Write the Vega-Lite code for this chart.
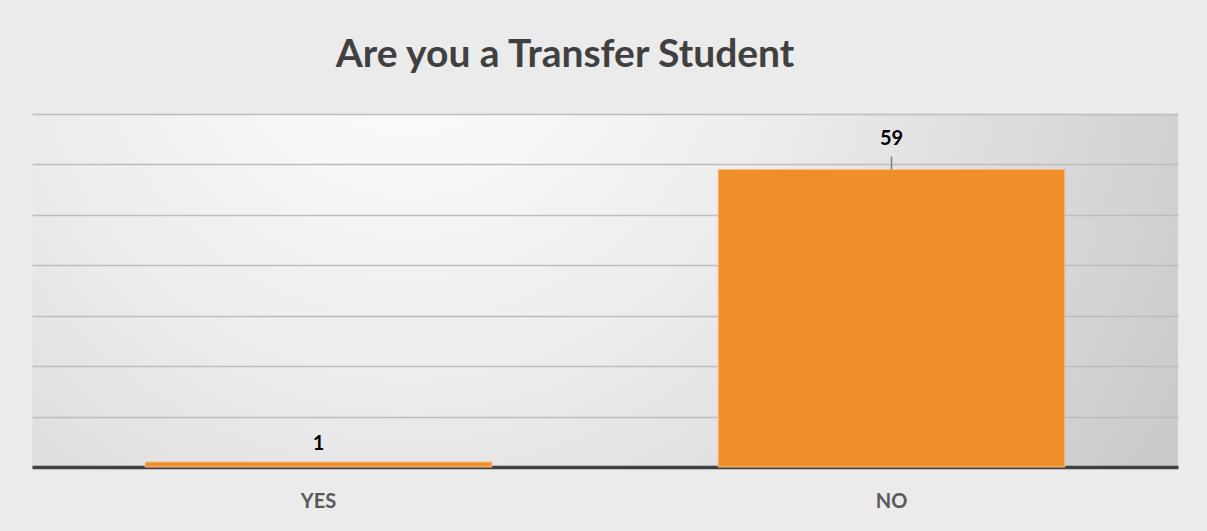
{
  "$schema": "https://vega.github.io/schema/vega-lite/v6.json",
  "width": 1146,
  "height": 353,
  "autosize": "none",
  "padding": {"left": 32, "top": 114, "right": 29, "bottom": 64},
  "background": "#ebebeb",
  "title": {
    "text": "Are you a Transfer Student",
    "font": "Lato",
    "fontSize": 39,
    "fontWeight": "bold",
    "color": "#404040",
    "anchor": "middle",
    "baseline": "alphabetic",
    "offset": 8,
    "dx": -40
  },
  "data": {
    "values": [
      {"answer": "YES", "count": 1},
      {"answer": "NO", "count": 59}
    ]
  },
  "encoding": {
    "x": {
      "field": "answer",
      "type": "nominal",
      "sort": ["YES", "NO"],
      "scale": {"paddingInner": 0.395, "paddingOuter": 0.1975},
      "axis": {
        "title": null,
        "labelAngle": 0,
        "labelFont": "Lato",
        "labelFontSize": 20,
        "labelFontWeight": "bold",
        "labelColor": "#595959",
        "labelBaseline": "alphabetic",
        "labelPadding": 40,
        "ticks": false,
        "tickSize": 0,
        "domain": true,
        "domainColor": "#404040",
        "domainWidth": 3.5,
        "grid": false
      }
    },
    "y": {
      "field": "count",
      "type": "quantitative",
      "scale": {"domain": [0, 70], "nice": false},
      "axis": {
        "title": null,
        "labels": false,
        "ticks": false,
        "domain": false,
        "grid": true,
        "gridColor": "#bdbdbd",
        "gridWidth": 1.5,
        "values": [10, 20, 30, 40, 50, 60, 70]
      }
    }
  },
  "layer": [
    {
      "mark": {"type": "bar", "fill": "#EF8F2C", "stroke": "#f6c08c", "strokeWidth": 1}
    },
    {
      "transform": [{"filter": "datum.count > 10"}],
      "mark": {"type": "rule", "color": "#808080", "strokeWidth": 1.5, "y2Offset": -13},
      "encoding": {"y2": {"field": "count"}}
    },
    {
      "transform": [{"filter": "datum.count > 10"}],
      "mark": {"type": "text", "font": "Lato", "fontSize": 20, "fontWeight": "bold", "color": "#000000", "baseline": "alphabetic", "dy": -24.5},
      "encoding": {"text": {"field": "count", "type": "quantitative"}}
    },
    {
      "transform": [{"filter": "datum.count <= 10"}],
      "mark": {"type": "text", "font": "Lato", "fontSize": 20, "fontWeight": "bold", "color": "#000000", "baseline": "alphabetic", "dy": -12},
      "encoding": {"text": {"field": "count", "type": "quantitative"}}
    }
  ],
  "config": {
    "view": {
      "stroke": null,
      "fill": {
        "gradient": "radial",
        "x1": 0.33, "y1": 0.25, "r1": 0,
        "x2": 0.33, "y2": 0.25, "r2": 0.75,
        "stops": [
          {"offset": 0, "color": "#ffffff"},
          {"offset": 0.45, "color": "#ececec"},
          {"offset": 1, "color": "#cbcbcb"}
        ]
      }
    }
  }
}
